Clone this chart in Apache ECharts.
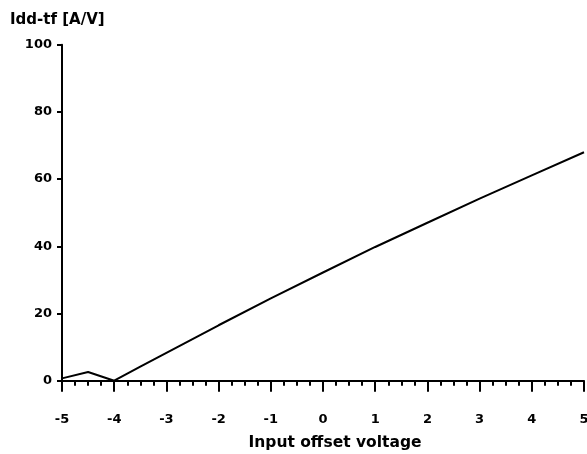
<!DOCTYPE html>
<html>
<head>
<meta charset="utf-8">
<script src="https://cdn.jsdelivr.net/npm/echarts@6/dist/echarts.min.js"></script>
<style>
  html, body { margin: 0; padding: 0; background: #fff; }
  #chart { width: 587px; height: 454px; }
</style>
</head>
<body>
<div id="chart"></div>
<script>
// 读图估计的数据
const offsetVoltage = [-5, -4.5, -4, -3.5, -3, -2, -1, 0, 1, 2, 3, 4, 5];
const iddTf = [0.7, 2.6, 0, 4.2, 8.3, 16.5, 24.5, 32.2, 39.8, 47.0, 54.2, 61.1, 68.0];
const yTicks = [0, 20, 40, 60, 80, 100];

const FONT = 'DejaVu Sans';
const chart = echarts.init(document.getElementById('chart'));

chart.setOption({
  animation: false,
  title: {
    text: 'Idd-tf [A/V]',
    left: 10,
    top: 13,
    padding: 0,
    textStyle: { fontFamily: FONT, fontSize: 15, fontWeight: 'bold', color: '#000' }
  },
  grid: { left: 62, right: 3, top: 44.7, bottom: 73.3, outerBoundsMode: 'none' },
  xAxis: {
    type: 'value',
    min: -5,
    max: 5,
    interval: 1,
    name: 'Input offset voltage',
    nameLocation: 'middle',
    nameGap: 54,
    // 标题在参考图里略偏右
    nameTextStyle: { fontFamily: FONT, fontSize: 15.5, fontWeight: 'bold', color: '#000', padding: [0, 0, 0, 24] },
    axisLine: { onZero: false, lineStyle: { color: '#000', width: 2 } },
    axisTick: { length: 11, lineStyle: { color: '#000', width: 2 } },
    minorTick: { show: true, splitNumber: 4, length: 5, lineStyle: { color: '#000', width: 2 } },
    axisLabel: { fontFamily: FONT, fontSize: 13, fontWeight: 'bold', color: '#000', margin: 32 },
    splitLine: { show: false }
  },
  yAxis: {
    type: 'value',
    min: yTicks[0],
    max: yTicks[yTicks.length - 1],
    interval: yTicks[1] - yTicks[0],
    axisLine: { show: true, onZero: false, lineStyle: { color: '#000', width: 2 } },
    axisTick: { show: true, length: 5, lineStyle: { color: '#000', width: 2 } },
    axisLabel: { fontFamily: FONT, fontSize: 13, fontWeight: 'bold', color: '#000', margin: 10 },
    splitLine: { show: false }
  },
  series: [{
    type: 'line',
    data: offsetVoltage.map((v, i) => [v, iddTf[i]]),
    showSymbol: false,
    lineStyle: { color: '#000', width: 2 },
    z: 3
  }]
});
</script>
</body>
</html>
